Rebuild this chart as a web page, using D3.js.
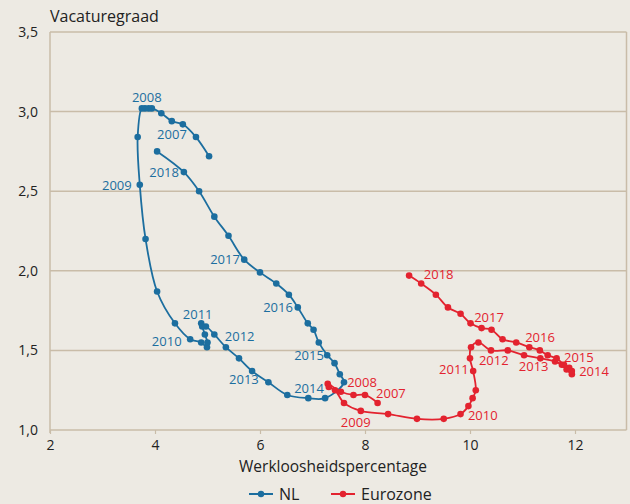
<!DOCTYPE html>
<html>
<head>
<meta charset="utf-8">
<script src="https://cdn.jsdelivr.net/npm/d3@7"></script>
<style>
    body { margin: 0; background: #edeae3; }
    svg { display: block; font-family: "Open Sans", sans-serif; }
</style>
</head>
<body>
<div id="chart"></div>
<script>

// Data (quarterly, 2007 onwards)
//-------------------------------
var nlUnemployment = [5.03, 4.78, 4.53, 4.32, 4.12, 3.94, 3.88, 3.81, 3.75, 3.67, 3.71, 3.82,
    4.04, 4.38, 4.67, 4.88, 4.99, 5.00, 4.95, 4.88, 4.90, 4.97, 5.13, 5.35, 5.60, 5.85,
    6.16, 6.52, 6.92, 7.24, 7.60, 7.52, 7.42, 7.28, 7.12, 7.02, 6.91, 6.72, 6.55, 6.31,
    6.00, 5.70, 5.40, 5.13, 4.84, 4.55, 4.04];
var nlVacancy = [2.72, 2.84, 2.92, 2.94, 2.99, 3.02, 3.02, 3.02, 3.02, 2.84, 2.54, 2.20,
    1.87, 1.67, 1.57, 1.55, 1.52, 1.55, 1.60, 1.67, 1.65, 1.65, 1.60, 1.52, 1.45, 1.37,
    1.30, 1.22, 1.20, 1.20, 1.30, 1.35, 1.42, 1.47, 1.55, 1.63, 1.67, 1.77, 1.85, 1.92,
    1.99, 2.07, 2.22, 2.34, 2.50, 2.62, 2.75];

var euUnemployment = [8.24, 8.00, 7.78, 7.54, 7.29, 7.31, 7.43, 7.60, 7.92, 8.44, 8.99, 9.50,
    9.82, 9.97, 10.05, 10.11, 10.06, 10.00, 10.02, 10.16, 10.40, 10.72, 11.03, 11.34,
    11.62, 11.75, 11.84, 11.94, 11.94, 11.89, 11.79, 11.65, 11.48, 11.33, 11.13, 10.88,
    10.62, 10.41, 10.22, 10.01, 9.82, 9.58, 9.35, 9.07, 8.84];
var euVacancy = [1.17, 1.22, 1.22, 1.24, 1.29, 1.27, 1.25, 1.17, 1.12, 1.10, 1.07, 1.07,
    1.10, 1.15, 1.20, 1.25, 1.37, 1.45, 1.52, 1.55, 1.50, 1.50, 1.47, 1.45,
    1.43, 1.41, 1.38, 1.35, 1.37, 1.39, 1.41, 1.45, 1.47, 1.50, 1.52, 1.55,
    1.57, 1.63, 1.64, 1.67, 1.73, 1.77, 1.85, 1.92, 1.97];

// Year annotations (placed in data units)
var labelYears = ["2007", "2008", "2009", "2010", "2011", "2012", "2013", "2014", "2015", "2016", "2017", "2018"];
var nlLabelX = [4.04, 3.56, 2.99, 3.94, 4.53, 5.33, 5.41, 6.65, 6.65, 6.06, 5.05, 3.89];
var nlLabelY = [2.83, 3.06, 2.51, 1.53, 1.70, 1.56, 1.29, 1.23, 1.44, 1.74, 2.04, 2.59];
var euLabelX = [8.21, 7.66, 7.54, 9.96, 9.41, 10.17, 10.93, 12.08, 11.79, 11.05, 10.08, 9.12];
var euLabelY = [1.20, 1.27, 1.02, 1.06, 1.35, 1.41, 1.37, 1.34, 1.43, 1.55, 1.68, 1.95];

var xTicks = [2, 4, 6, 8, 10, 12];
var yTicks = [1.0, 1.5, 2.0, 2.5, 3.0, 3.5];

var series = [
    { name: "NL", color: "#1c6e9f", x: nlUnemployment, y: nlVacancy, lx: nlLabelX, ly: nlLabelY },
    { name: "Eurozone", color: "#e3232f", x: euUnemployment, y: euVacancy, lx: euLabelX, ly: euLabelY }
];

var width = 630, height = 504;
var gridColor = "#c9bca8";
var textColor = "#222";

var svg = d3.select("#chart").append("svg")
    .attr("width", width)
    .attr("height", height);

svg.append("rect")
    .attr("width", width)
    .attr("height", height)
    .attr("fill", "#edeae3");

// Scales
var x = d3.scaleLinear().domain([2, 13]).range([50, 627.5]);
var y = d3.scaleLinear().domain([1, 3.5]).range([430, 32]);

// Gridlines
svg.selectAll("line.grid")
    .data(yTicks.slice(1))
    .enter()
    .append("line")
    .attr("class", "grid")
    .attr("x1", x(2))
    .attr("x2", x(13) - 1)
    .attr("y1", function (d) { return y(d); })
    .attr("y2", function (d) { return y(d); })
    .attr("stroke", gridColor)
    .attr("stroke-width", 1.5);

// Left and right frame lines
svg.append("line")
    .attr("x1", x(2)).attr("x2", x(2))
    .attr("y1", y(3.5)).attr("y2", y(1) + 3)
    .attr("stroke", gridColor)
    .attr("stroke-width", 1.5);

svg.append("line")
    .attr("x1", x(13) - 1).attr("x2", x(13) - 1)
    .attr("y1", y(3.5)).attr("y2", y(1))
    .attr("stroke", gridColor)
    .attr("stroke-width", 1.5);

// X axis
var xAxis = svg.append("g")
    .attr("transform", "translate(0," + y(1) + ")")
    .call(d3.axisBottom(x).tickValues(xTicks).tickSize(4).tickPadding(6).tickFormat(d3.format("d")));

xAxis.select(".domain").attr("stroke", gridColor).attr("stroke-width", 1.5)
    .attr("d", "M" + x(2) + ",0H" + (x(13) - 1));
xAxis.selectAll(".tick line").attr("stroke", gridColor).attr("stroke-width", 1.2);
xAxis.selectAll(".tick text")
    .attr("fill", textColor)
    .style("font-size", "14px")
    .style("font-family", "Open Sans, sans-serif");

// Y axis labels
svg.selectAll("text.ytick")
    .data(yTicks)
    .enter()
    .append("text")
    .attr("class", "ytick")
    .attr("x", 38)
    .attr("y", function (d) { return y(d); })
    .attr("dy", "0.35em")
    .attr("text-anchor", "end")
    .attr("fill", textColor)
    .style("font-size", "14px")
    .text(function (d) { return d3.format(".1f")(d).replace(".", ","); });

// Axis titles
svg.append("text")
    .attr("x", 50)
    .attr("y", 22)
    .attr("fill", textColor)
    .style("font-size", "16px")
    .text("Vacaturegraad");

svg.append("text")
    .attr("x", 333)
    .attr("y", 472)
    .attr("text-anchor", "middle")
    .attr("fill", textColor)
    .style("font-size", "15.5px")
    .text("Werkloosheidspercentage");

// Lines, dots and year labels
var line = d3.line()
    .x(function (d) { return x(d[0]); })
    .y(function (d) { return y(d[1]); })
    .curve(d3.curveCatmullRom.alpha(0.5));

series.forEach(function (s) {
    var pts = s.x.map(function (v, i) { return [v, s.y[i]]; });

    svg.append("path")
        .datum(pts)
        .attr("d", line)
        .attr("fill", "none")
        .attr("stroke", s.color)
        .attr("stroke-width", 1.8);

    svg.selectAll("circle." + s.name)
        .data(pts)
        .enter()
        .append("circle")
        .attr("class", s.name)
        .attr("cx", function (d) { return x(d[0]); })
        .attr("cy", function (d) { return y(d[1]); })
        .attr("r", 3.3)
        .attr("fill", s.color);

    svg.selectAll("text.lbl" + s.name)
        .data(labelYears)
        .enter()
        .append("text")
        .attr("class", "lbl" + s.name)
        .attr("x", function (d, i) { return x(s.lx[i]); })
        .attr("y", function (d, i) { return y(s.ly[i]); })
        .attr("fill", s.color)
        .style("font-size", "13px")
        .text(function (d) { return d; });
});

// Legend
var legendX = [249, 331];
var legend = svg.selectAll("g.legend")
    .data(series)
    .enter()
    .append("g")
    .attr("class", "legend")
    .attr("transform", function (d, i) { return "translate(" + legendX[i] + ",494)"; });

legend.append("line")
    .attr("x1", 0).attr("x2", 24)
    .attr("stroke", function (d) { return d.color; })
    .attr("stroke-width", 2);

legend.append("circle")
    .attr("cx", 12)
    .attr("r", 3.2)
    .attr("fill", function (d) { return d.color; });

legend.append("text")
    .attr("x", 30)
    .attr("y", 6)
    .attr("fill", textColor)
    .style("font-size", "16px")
    .text(function (d) { return d.name; });

</script>
</body>
</html>
